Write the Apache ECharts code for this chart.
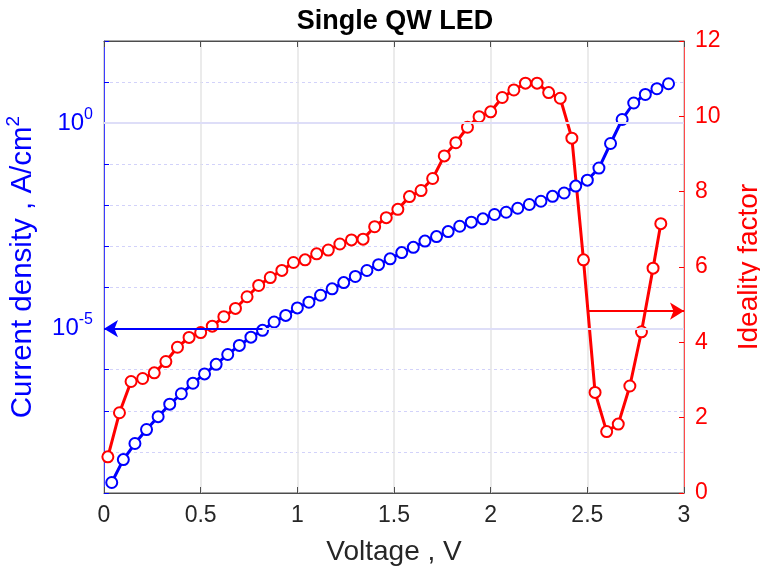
<!DOCTYPE html>
<html>
<head>
<meta charset="utf-8">
<title>Single QW LED</title>
<script src="https://cdn.jsdelivr.net/npm/echarts@6/dist/echarts.min.js"></script>
<style>
  html, body { margin: 0; padding: 0; background: #fff; }
  #chart { width: 760px; height: 569px; }
</style>
</head>
<body>
<div id="chart"></div>
<script>
// current density curve: voltage (V) and J (A/cm^2)
const voltageJ = [0.04, 0.10, 0.16, 0.22, 0.28, 0.34, 0.40, 0.46, 0.52, 0.58,
  0.64, 0.70, 0.76, 0.82, 0.88, 0.94, 1.00, 1.06, 1.12, 1.18,
  1.24, 1.30, 1.36, 1.42, 1.48, 1.54, 1.60, 1.66, 1.72, 1.78,
  1.84, 1.90, 1.96, 2.02, 2.08, 2.14, 2.20, 2.26, 2.32, 2.38,
  2.44, 2.50, 2.56, 2.62, 2.68, 2.74, 2.80, 2.86, 2.92];
const currentDensity = [1.8e-9, 6.5e-9, 1.6e-8, 3.5e-8, 7.2e-8, 1.45e-7, 2.6e-7, 4.7e-7, 7.9e-7, 1.35e-6,
  2.35e-6, 3.9e-6, 6.2e-6, 9.1e-6, 1.45e-5, 2.1e-5, 3.2e-5, 4.4e-5, 6.5e-5, 9.3e-5,
  1.32e-4, 1.86e-4, 2.6e-4, 3.6e-4, 5.0e-4, 7.1e-4, 9.5e-4, 1.35e-3, 1.74e-3, 2.3e-3,
  3.1e-3, 3.9e-3, 4.7e-3, 6.0e-3, 6.8e-3, 8.5e-3, 1.05e-2, 1.26e-2, 1.66e-2, 2.0e-2,
  2.95e-2, 4.1e-2, 8.1e-2, 0.32, 1.23, 3.1, 5.0, 6.9, 9.1];

// ideality factor curve
const voltageN = [0.02, 0.08, 0.14, 0.20, 0.26, 0.32, 0.38, 0.44, 0.50, 0.56,
  0.62, 0.68, 0.74, 0.80, 0.86, 0.92, 0.98, 1.04, 1.10, 1.16,
  1.22, 1.28, 1.34, 1.40, 1.46, 1.52, 1.58, 1.64, 1.70, 1.76,
  1.82, 1.88, 1.94, 2.00, 2.06, 2.12, 2.18, 2.24, 2.30, 2.36,
  2.42, 2.48, 2.54, 2.60, 2.66, 2.72, 2.78, 2.84, 2.88];
const idealityFactor = [0.96, 2.13, 2.96, 3.04, 3.19, 3.49, 3.87, 4.13, 4.26, 4.43,
  4.68, 4.90, 5.21, 5.51, 5.72, 5.91, 6.12, 6.19, 6.35, 6.45,
  6.61, 6.72, 6.74, 7.07, 7.31, 7.53, 7.87, 8.03, 8.35, 8.95,
  9.30, 9.71, 9.99, 10.12, 10.50, 10.70, 10.88, 10.88, 10.63, 10.48,
  9.42, 6.19, 2.67, 1.63, 1.83, 2.84, 4.28, 5.97, 7.15];

// left axis runs over decades 1e-9 .. 1e2; only these decades are labelled
const decadeRange = [-9, 2];
const labelledDecades = [0, -5];
// arrows pointing each curve to its axis: [start, end]
const blueArrow = [[0.82, 1e-5], [0, 1e-5]];
const redArrow = [[2.5, 4.83], [3, 4.83]];

const font = "'Liberation Sans', Arial, Helvetica, sans-serif";
const blue = '#0000ff';
const red = '#ff0000';
const dark = '#262626';

// the log axis is drawn as a linear axis of exponents
const lg = (v) => Math.log10(v);

const chart = echarts.init(document.getElementById('chart'));

const option = {
  backgroundColor: '#fff',
  animation: false,
  textStyle: { fontFamily: font },
  title: {
    text: 'Single QW LED',
    left: 390,
    top: 3,
    textAlign: 'center',
    textStyle: { fontFamily: font, fontSize: 27, fontWeight: 'bold', color: '#000' }
  },
  grid: {
    left: 104, right: 76, top: 41, bottom: 76,
    outerBoundsMode: 'none',
    containLabel: false,
    show: true, borderColor: '#4d4d4d', borderWidth: 1
  },
  xAxis: [
    {
      type: 'value', min: 0, max: 3, interval: 0.5, position: 'bottom',
      name: 'Voltage , V', nameLocation: 'middle', nameGap: 45,
      nameTextStyle: { fontFamily: font, fontSize: 28, color: dark },
      axisLine: { onZero: false, lineStyle: { color: '#4d4d4d' } },
      axisTick: { inside: true, length: 6, lineStyle: { color: '#4d4d4d' } },
      axisLabel: { fontFamily: font, fontSize: 23, color: dark, margin: 11 },
      splitLine: { show: true, lineStyle: { color: '#e4e4e4', width: 1.5 } }
    },
    {
      type: 'value', min: 0, max: 3, interval: 0.5, position: 'top',
      axisLine: { onZero: false, lineStyle: { color: '#4d4d4d' } },
      axisTick: { inside: true, length: 6, lineStyle: { color: '#4d4d4d' } },
      axisLabel: { show: false },
      splitLine: { show: false }
    }
  ],
  yAxis: [
    {
      type: 'value', min: decadeRange[0], max: decadeRange[1], interval: 1, position: 'left',
      name: '{t|Current density , A/cm}{s|2}',
      nameLocation: 'middle', nameGap: 62, nameRotate: 90,
      nameTextStyle: {
        color: blue,
        rich: {
          t: { fontFamily: font, fontSize: 29.5, color: blue, lineHeight: 38 },
          s: { fontFamily: font, fontSize: 19, color: blue, verticalAlign: 'top', lineHeight: 19 }
        }
      },
      axisLine: { show: true, onZero: false, lineStyle: { color: '#3d3dff' } },
      axisTick: { inside: true, length: 5, lineStyle: { color: blue } },
      axisLabel: {
        margin: 11,
        formatter: (value) => labelledDecades.includes(value) ? '{b|10}{s|' + value + '}' : '',
        rich: {
          b: { fontFamily: font, fontSize: 24, color: blue, lineHeight: 34 },
          s: { fontFamily: font, fontSize: 16, color: blue, verticalAlign: 'top', lineHeight: 16 }
        }
      },
      splitLine: { show: true, lineStyle: { color: '#d2d2fa', type: [3, 3] } }
    },
    {
      type: 'value', min: 0, max: 12, interval: 2, position: 'right',
      name: 'Ideality factor', nameLocation: 'middle', nameGap: 51, nameRotate: 90,
      nameTextStyle: { fontFamily: font, fontSize: 28, color: red },
      axisLine: { show: true, onZero: false, lineStyle: { color: '#ff4a4a' } },
      axisTick: { inside: true, length: 5, lineStyle: { color: red } },
      axisLabel: { fontFamily: font, fontSize: 23, color: red, margin: 11 },
      splitLine: { show: false }
    }
  ],
  series: [
    {
      type: 'line', yAxisIndex: 0, data: [], silent: true, z: 1,
      markLine: {
        silent: true, symbol: 'none', label: { show: false },
        lineStyle: { color: '#dedef8', width: 2, type: 'solid' },
        data: labelledDecades.map((e) => ({ yAxis: e }))
      }
    },
    {
      name: 'Current density', type: 'line', yAxisIndex: 0, z: 3,
      data: voltageJ.map((v, i) => [v, lg(currentDensity[i])]),
      symbol: 'emptyCircle', symbolSize: 11,
      lineStyle: { color: blue, width: 3 },
      itemStyle: { color: blue, borderColor: blue, borderWidth: 3 }
    },
    {
      name: 'Ideality factor', type: 'line', yAxisIndex: 1, z: 3,
      data: voltageN.map((v, i) => [v, idealityFactor[i]]),
      symbol: 'emptyCircle', symbolSize: 11,
      lineStyle: { color: red, width: 3 },
      itemStyle: { color: red, borderColor: red, borderWidth: 3 }
    },
    {
      type: 'line', yAxisIndex: 0, data: [], silent: true, z: 4,
      markLine: {
        silent: true, symbol: ['none', 'arrow'], symbolSize: [13, 14], label: { show: false },
        lineStyle: { color: blue, width: 2, type: 'solid' },
        data: [[{ coord: [blueArrow[0][0], lg(blueArrow[0][1])] },
                { coord: [blueArrow[1][0], lg(blueArrow[1][1])] }]]
      }
    },
    {
      type: 'line', yAxisIndex: 1, data: [], silent: true, z: 4,
      markLine: {
        silent: true, symbol: ['none', 'arrow'], symbolSize: [13, 14], label: { show: false },
        lineStyle: { color: red, width: 2, type: 'solid' },
        data: [[{ coord: redArrow[0] }, { coord: redArrow[1] }]]
      }
    }
  ]
};

chart.setOption(option);
</script>
</body>
</html>
